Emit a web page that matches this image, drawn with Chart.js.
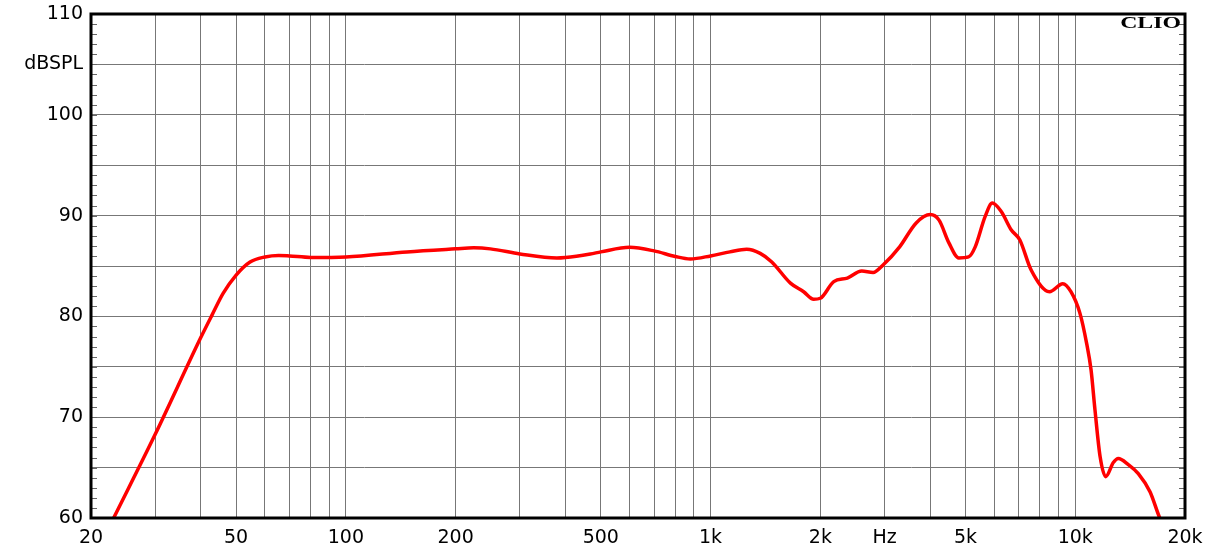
<!DOCTYPE html>
<html>
<head>
<meta charset="utf-8">
<script src="https://cdn.jsdelivr.net/npm/chart.js@4/dist/chart.umd.min.js"></script>
<style>
    body { margin: 0; background: #fff; }
    #wrap { width: 1214px; height: 550px; position: relative; }
</style>
</head>
<body>
<div id="wrap"><canvas id="splChart"></canvas></div>
<script>
// frequency response
const freqs = [23, 30, 40, 42.9, 46.1, 50, 54.6, 60, 65.4, 70, 80, 100,
    147, 200, 224, 249, 300, 379, 400, 468, 500, 600, 700, 800, 880, 1000, 1130, 1256, 1368,
    1472, 1656, 1800, 1918, 2000, 2177, 2372, 2598, 2790, 2972, 3300, 3658, 4004, 4232, 4504,
    4794, 5100, 5318, 5660, 5926, 6268, 6672, 7044, 7570, 8500, 9246, 9732, 10304, 10750,
    11050, 11330, 11700, 12120, 12720, 13128, 13982, 14892, 16034, 17006, 17200];
const spl = [59.9, 68.3, 77.9, 80.1, 82.3, 84.1, 85.4, 85.9, 86.05, 86.0, 85.85, 85.9,
    86.4, 86.7, 86.8, 86.7, 86.2, 85.8, 85.85, 86.2, 86.4, 86.85, 86.5, 85.95, 85.7, 86.0, 86.4, 86.65, 86.25,
    85.4, 83.3, 82.45, 81.7, 81.8, 83.45, 83.8, 84.5, 84.35, 85.1, 86.9, 89.25, 90.1, 89.55, 87.3,
    85.8, 85.9, 86.9, 89.9, 91.25, 90.4, 88.6, 87.6, 84.6, 82.45, 83.25, 82.45, 80.3, 77.3,
    74.7, 70.7, 66.1, 64.1, 65.5, 65.9, 65.3, 64.4, 62.6, 60.1, 59.7];

const xGridValues = [20, 30, 40, 50, 60, 70, 80, 90, 100, 200, 300, 400, 500, 600, 700, 800, 900,
    1000, 2000, 3000, 4000, 5000, 6000, 7000, 8000, 9000, 10000, 20000];
const xLabelValues = [20, 50, 100, 200, 500, 1000, 2000, 3000, 5000, 10000, 20000];
const xLabels = ['20', '50', '100', '200', '500', '1k', '2k', 'Hz', '5k', '10k', '20k'];
const yLabelValues = [60, 70, 80, 90, 100, 105, 110];
const yLabels = ['60', '70', '80', '90', '100', 'dBSPL', '110'];

const frame = {
    id: 'frame',
    afterDraw(chart) {
        const ctx = chart.ctx;
        const a = chart.chartArea;
        const y = chart.scales.y;
        ctx.save();
        // small 1 dB ticks on both sides
        ctx.strokeStyle = '#666';
        ctx.lineWidth = 1;
        ctx.beginPath();
        for (let v = 61; v < 110; v++) {
            const py = Math.round(y.getPixelForValue(v)) + 0.5;
            ctx.moveTo(a.left, py);
            ctx.lineTo(a.left + 6, py);
            ctx.moveTo(a.right, py);
            ctx.lineTo(a.right - 6, py);
        }
        ctx.stroke();
        ctx.strokeStyle = '#000';
        ctx.lineWidth = 3;
        ctx.strokeRect(a.left, a.top, a.right - a.left, a.bottom - a.top);
        // CLIO mark
        ctx.translate(a.right - 4, a.top + 14);
        ctx.scale(1.4, 1);
        ctx.fillStyle = '#000';
        ctx.font = 'bold 17px "Liberation Serif"';
        ctx.textAlign = 'right';
        ctx.textBaseline = 'alphabetic';
        ctx.fillText('CLIO', 0, 0);
        ctx.restore();
    }
};

const ctx = document.getElementById('splChart').getContext('2d');
new Chart(ctx, {
    type: 'line',
    data: {
        datasets: [{
            data: freqs.map((f, i) => ({x: f, y: spl[i]})),
            borderColor: '#ff0000',
            borderWidth: 3.5,
            pointRadius: 0,
            cubicInterpolationMode: 'monotone',
            fill: false
        }]
    },
    options: {
        responsive: true,
        maintainAspectRatio: false,
        animation: false,
        events: [],
        layout: { padding: { top: 14, right: 29, left: 0, bottom: 0 } },
        plugins: { legend: { display: false }, tooltip: { enabled: false } },
        scales: {
            x: {
                type: 'logarithmic',
                min: 20,
                max: 20000,
                afterBuildTicks: (s) => { s.ticks = xGridValues.map(v => ({value: v})); },
                afterFit: (s) => { s.height = 32; s.paddingLeft = 0; s.paddingRight = 0; },
                grid: { color: '#777', lineWidth: 1, drawTicks: false },
                border: { display: false },
                ticks: {
                    autoSkip: false,
                    maxRotation: 0,
                    padding: 9,
                    color: '#000',
                    font: { family: '"DejaVu Sans"', size: 19 },
                    callback: (v) => {
                        const i = xLabelValues.indexOf(v);
                        return i < 0 ? '' : xLabels[i];
                    }
                }
            },
            y: {
                min: 60,
                max: 110,
                afterFit: (s) => { s.width = 91; s.paddingTop = 0; s.paddingBottom = 0; },
                grid: { color: '#777', lineWidth: 1, drawTicks: false },
                border: { display: false },
                ticks: {
                    stepSize: 5,
                    padding: 8,
                    color: '#000',
                    font: { family: '"DejaVu Sans"', size: 19 },
                    callback: (v) => {
                        const i = yLabelValues.indexOf(v);
                        return i < 0 ? '' : yLabels[i];
                    }
                }
            }
        }
    },
    plugins: [frame]
});
</script>
</body>
</html>
